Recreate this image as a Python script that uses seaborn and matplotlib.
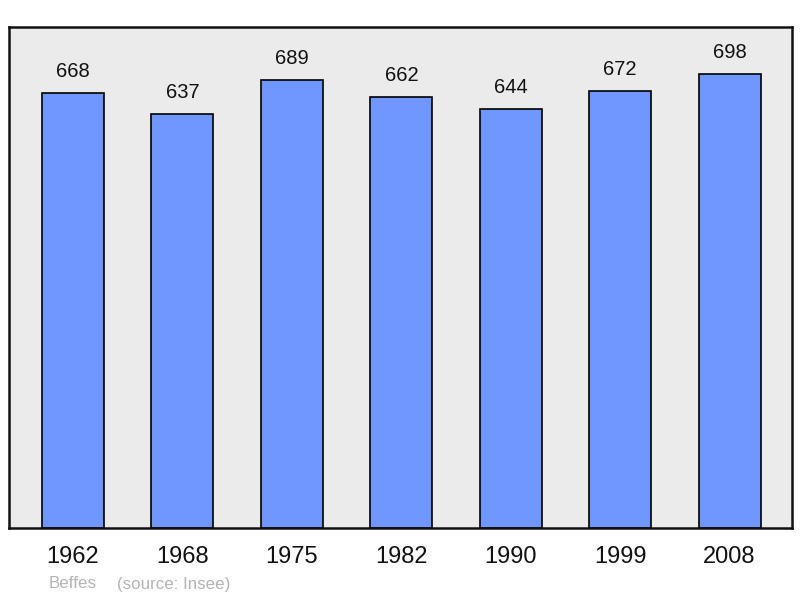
import matplotlib
matplotlib.use("Agg")
import pandas as pd
import matplotlib.pyplot as plt
import seaborn as sns

years = ["1962", "1968", "1975", "1982", "1990", "1999", "2008"]
population = [668, 637, 689, 662, 644, 672, 698]

df = pd.DataFrame({"year": years, "population": population})

sns.set_style("white")
plt.rcParams["font.family"] = ["Liberation Sans", "DejaVu Sans"]

fig = plt.figure(figsize=(8, 5.98), dpi=100)
ax = fig.add_axes([9 / 800, 1 - 528 / 598, 783 / 800, 501 / 598])
ax.set_facecolor("#ebebeb")

sns.barplot(
    data=df,
    x="year",
    y="population",
    color="#7096ff",
    saturation=1,
    width=0.567,
    edgecolor="black",
    linewidth=1.2,
    ax=ax,
)

for i, v in enumerate(population):
    ax.annotate(
        str(v),
        xy=(i, v),
        xytext=(0, 15.5),
        textcoords="offset points",
        ha="center",
        va="center",
        fontsize=14.5,
        color="#111111",
    )

ax.set_xlim(-0.585, 6.57)
ax.set_ylim(0, 770)
ax.set_yticks([])
ax.set_xlabel("")
ax.set_ylabel("")
ax.tick_params(axis="x", length=0, labelsize=17, pad=13, labelcolor="#111111")

for spine in ax.spines.values():
    spine.set_linewidth(1.8)
    spine.set_color("#111111")

fig.text(49 / 800, 1 - 584 / 598, "Beffes",
         fontsize=12.2, color="#b4b4b4", va="center", ha="left")
fig.text(117 / 800, 1 - 584 / 598, "(source: Insee)",
         fontsize=12.2, color="#b4b4b4", va="center", ha="left")

fig.savefig("out.png", dpi=100)
